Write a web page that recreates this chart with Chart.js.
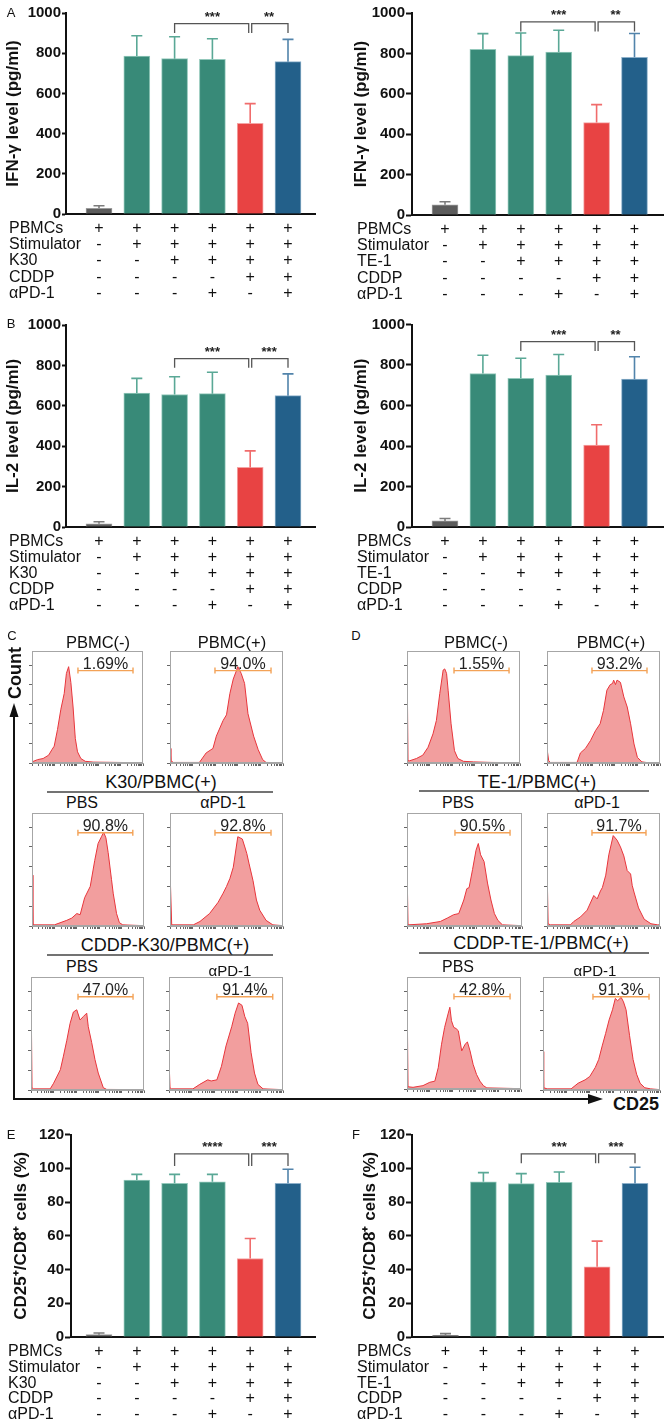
<!DOCTYPE html>
<html><head><meta charset="utf-8">
<script src="https://cdn.jsdelivr.net/npm/chart.js@4.4.1/dist/chart.umd.min.js"></script>
<style>
html,body{margin:0;padding:0;background:#fff;}
#page{position:relative;width:665px;height:1424px;overflow:hidden;font-family:'Liberation Sans',Arial,sans-serif;color:#111;}
canvas{position:absolute;}
.t{position:absolute;white-space:nowrap;line-height:1;transform:translate(-50%,-50%);}
svg{position:absolute;left:0;top:0;}
</style></head><body><div id="page"></div>
<script>
// ---------- DATA ----------
const groups = [0, 1, 2, 3, 4, 5];
const rowNamesK30 = ['PBMCs', 'Stimulator', 'K30', 'CDDP', 'αPD-1'];
const rowNamesTE1 = ['PBMCs', 'Stimulator', 'TE-1', 'CDDP', 'αPD-1'];
const signPBMCs = ['+', '+', '+', '+', '+', '+'];
const signStim  = ['-', '+', '+', '+', '+', '+'];
const signCell  = ['-', '-', '+', '+', '+', '+'];
const signCDDP  = ['-', '-', '-', '-', '+', '+'];
const signPD1   = ['-', '-', '-', '+', '-', '+'];

const ifnK30Mean  = [28, 786, 773, 770, 451, 758];
const ifnK30Err   = [41, 887, 882, 872, 549, 869];
const ifnTE1Mean  = [51, 821, 790, 808, 458, 782];
const ifnTE1Err   = [66, 899, 902, 916, 547, 900];
const il2K30Mean  = [16, 663, 656, 660, 295, 650];
const il2K30Err   = [26, 736, 744, 766, 377, 758];
const il2TE1Mean  = [30, 758, 734, 750, 405, 730];
const il2TE1Err   = [42, 848, 833, 852, 505, 841];
const cd25K30Mean = [1.4, 93, 91.1, 92, 46.5, 91.1];
const cd25K30Err  = [2.4, 96.4, 96.4, 96.4, 58.4, 99.4];
const cd25TE1Mean = [1.0, 92, 90.9, 91.7, 41.6, 91];
const cd25TE1Err  = [2.0, 97.4, 96.8, 97.8, 56.8, 100.6];

const sigIfnK30  = [{from:2, to:4, y:947, drop:900, label:'***'}, {from:4, to:5, y:947, drop:900, label:'**'}];
const sigIfnTE1  = [{from:2, to:4, y:957, drop:910, label:'***'}, {from:4, to:5, y:957, drop:910, label:'**'}];
const sigIl2K30  = [{from:2, to:4, y:834, drop:788, label:'***'}, {from:4, to:5, y:834, drop:788, label:'***'}];
const sigIl2TE1  = [{from:2, to:4, y:915, drop:869, label:'***'}, {from:4, to:5, y:915, drop:869, label:'**'}];
const sigCd25K30 = [{from:2, to:4, y:108.5, drop:101.4, label:'****'}, {from:4, to:5, y:108.5, drop:101.4, label:'***'}];
const sigCd25TE1 = [{from:2, to:4, y:108.5, drop:103, label:'***'}, {from:4, to:5, y:108.5, drop:103, label:'***'}];

// flow histograms: [CD25 position (% of axis), count (% of max)]
const histC1 = [[0,1],[5,3],[10,4],[15,7],[18,12],[20,15],[23,30],[26,48],[29,62],[31,80],[33,86],[35,72],[37,50],[39,22],[41,10],[44,4],[48,1.5],[55,0.8],[70,0.6],[85,0.4],[100,0.3]];
const histC2 = [[0,13],[0.8,2],[3,0.5],[26,0.5],[32,9],[38,13],[41,24],[47,38],[50,43],[53,62],[56,75],[59,83],[60,86],[63,80],[66,71],[69,44],[74,24],[78,12],[82,3],[85,0.5],[100,0.3]];
const histC3 = [[0,45],[0.8,1],[20,1],[31,5],[35.5,7],[40,11],[43,10],[47,25],[52,35],[56,58],[59,73],[62,79],[64,83],[66,78],[68,65],[71,41],[72.5,29],[75.5,11],[78,3],[81,1],[100,0.3]];
const histC4 = [[0,50],[1.5,1],[20.6,1],[26.5,4],[35,11],[42.6,21],[47,29],[50,35],[53,42],[56,52],[60,79],[62,78],[64,77],[66.5,69],[68,64],[70,55],[73.5,40],[76.5,23],[79.4,14],[85,5],[91,1],[100,0.3]];
const histC5 = [[0,96],[0.9,2],[2.3,1],[17,1],[20,6],[26,18],[28.7,30],[31.7,44],[34.6,59],[37.5,69],[40.5,71],[43.4,62],[46.3,65],[49.3,68],[50.7,56],[53.7,42],[56.6,27],[59.5,15],[64,2],[67,0.5],[100,0.3]];
const histC6 = [[0,27],[0.9,2],[2.3,1],[21,1],[27,5],[34,9],[37,8],[42,9],[46,21],[50,39],[55,56],[58,68],[61,77],[64,75],[66.5,65],[69,59],[72,33],[75,15],[78,5],[82.5,1],[100,0.3]];
const histD1 = [[0,98],[0.9,2],[2.4,2],[8.3,4],[14,7],[18.6,14],[23,26],[26,38],[29,62],[32,83],[33.4,84],[35,80],[36.4,65],[39,35],[42,11],[45,4],[50,1.5],[59,1],[75,0.5],[100,0.3]];
const histD2 = [[0,13],[1.5,2],[3,0.5],[26.6,0.5],[29.6,9],[34,13],[38.5,20],[43,29],[47,35],[50,47],[53,65],[56,70],[58,71],[59,74],[60.6,70],[62,74],[65,72],[68,59],[71,50],[74,35],[77,17],[80,5],[84,1],[89,0.3],[100,0.3]];
const histD3 = [[0,55],[0.9,1],[17,2],[29,4],[35,7],[40.6,10],[45,11],[49.4,23],[52,33],[54,34],[57,50],[60,67],[62,73],[64,63],[67,57],[70,38],[73,23],[76,11],[79,5],[83,1],[100,0.3]];
const histD4 = [[0,55],[1,2],[3,1],[20.7,1],[23.7,4],[29.6,8],[35.5,14],[41.4,27],[44.4,24],[47.3,31],[49,34],[52,45],[54.7,63],[58.6,80],[62,76],[65,70],[68,62],[71,49],[74,46],[75.4,36],[77,30],[81,16],[86,6],[92,2],[98,1],[100,1]];
const histD5 = [[0,94],[0.9,2],[5.3,1.5],[14,3],[20,6],[24.4,7],[27.4,19],[30.3,40],[33,55],[36,67],[37.6,73],[39,61],[41,55],[43,54],[45,52],[48,34],[51,40],[53,42],[55.3,34],[58,22],[61,13],[64,7],[67,3],[70,1],[100,0.3]];
const histD6 = [[0,34],[0.6,2],[3.5,1],[24,1],[30,6],[36,9],[40,12],[44.7,20],[47.6,27],[50.6,39],[53.5,50],[56.5,62],[59.4,71],[61.8,81],[63.8,79],[66.8,82],[68.8,78],[71,71],[74,48],[77,27],[80,14],[83,6],[87,2],[92,1],[100,0.3]];

const gatesC = [[41.4,91],[39.8,89.4],[41,90],[39.8,89.4],[41.6,90.3],[42,91]];
const gatesD = [[41.6,90.3],[39.8,88.5],[41.7,89.6],[39.8,87.6],[41.2,90.4],[42.7,90.6]];
const pctC = ['1.69%', '94.0%', '90.8%', '92.8%', '47.0%', '91.4%'];
const pctD = ['1.55%', '93.2%', '90.5%', '91.7%', '42.8%', '91.3%'];
const gateLevel = 82.5;
const histYTicks = [0, 17.5, 35, 52.5, 70, 87.5];

// ---------- STYLE ----------
const FONT = "'Liberation Sans', Arial, sans-serif";
Chart.defaults.font.family = FONT;
const barColors = ['#5c5c5c', '#388a78', '#388a78', '#388a78', '#e84343', '#23608a'];
const barEdges  = ['#9c9c9c', '#93c8bb', '#93c8bb', '#93c8bb', '#f4a4a4', '#8db0ca'];
const errColors = ['#7c7c7c', '#5aa896', '#5aa896', '#5aa896', '#f06c6c', '#5284ab'];
const page = document.getElementById('page');

function mkCanvas(x, y, w, h) {
  const cv = document.createElement('canvas');
  cv.width = w; cv.height = h;
  cv.style.left = x + 'px'; cv.style.top = y + 'px';
  cv.style.width = w + 'px'; cv.style.height = h + 'px';
  page.appendChild(cv);
  return cv;
}

function barChart(s) {
  const cv = mkCanvas(s.x, s.y, s.w, s.h);
  const a = s.area;
  const xmin = (a.l - s.c0) / s.sp, xmax = (a.r - s.c0) / s.sp;
  const overlay = {
    id: 'overlay',
    afterDatasetsDraw(chart) {
      const ctx = chart.ctx, xs = chart.scales.x, ys = chart.scales.y;
      ctx.save();
      s.vals.forEach((v, i) => {
        const x = xs.getPixelForValue(groups[i]);
        const y0 = ys.getPixelForValue(v), y1 = ys.getPixelForValue(s.errs[i]);
        ctx.strokeStyle = errColors[i]; ctx.lineWidth = 1.6;
        ctx.beginPath();
        ctx.moveTo(x, y0); ctx.lineTo(x, y1);
        ctx.moveTo(x - 5.5, y1); ctx.lineTo(x + 5.5, y1);
        ctx.stroke();
      });
      s.sig.forEach((b, k) => {
        let xa = xs.getPixelForValue(b.from), xb = xs.getPixelForValue(b.to);
        if (k === 0) xb -= 1.5; else xa += 1.5;
        const yl = ys.getPixelForValue(b.y), yd = ys.getPixelForValue(b.drop);
        ctx.strokeStyle = '#555'; ctx.lineWidth = 1.3;
        ctx.beginPath();
        ctx.moveTo(xa, yd); ctx.lineTo(xa, yl); ctx.lineTo(xb, yl); ctx.lineTo(xb, yd);
        ctx.stroke();
        ctx.fillStyle = '#222'; ctx.font = 'bold 13px ' + FONT;
        ctx.textAlign = 'center'; ctx.textBaseline = 'alphabetic';
        ctx.fillText(b.label, (xs.getPixelForValue(b.from) + xs.getPixelForValue(b.to)) / 2, yl - 3);
      });
      ctx.fillStyle = '#111'; ctx.font = '16px ' + FONT; ctx.textBaseline = 'middle';
      s.rows.forEach((r, k) => {
        const y = a.b + 14.5 + k * s.rowStep;
        ctx.textAlign = 'left'; ctx.fillText(r.name, s.nameX, y);
        ctx.textAlign = 'center';
        r.signs.forEach((sg, i) => ctx.fillText(sg, xs.getPixelForValue(groups[i]), y));
      });
      ctx.restore();
    }
  };
  new Chart(cv.getContext('2d'), {
    type: 'bar',
    data: { datasets: [{
      data: s.vals.map((v, i) => ({ x: groups[i], y: v })),
      backgroundColor: barColors, borderColor: barEdges, borderWidth: 1, barThickness: 26
    }] },
    options: {
      responsive: false, animation: false, events: [], devicePixelRatio: 1,
      layout: { padding: { top: a.t, right: s.w - a.r, left: 0, bottom: 0 } },
      plugins: { legend: { display: false }, tooltip: { enabled: false } },
      scales: {
        x: { type: 'linear', min: xmin, max: xmax, offset: false,
             grid: { display: false }, ticks: { display: false },
             border: { display: true, width: 2, color: '#111' },
             afterFit(sc) { sc.height = s.h - a.b; } },
        y: { type: 'linear', min: 0, max: s.ymax,
             ticks: { stepSize: s.step, color: '#111', padding: 1, font: { family: FONT, size: 15, weight: 'bold' },
                      callback: v => String(v) },
             grid: { display: true, drawOnChartArea: false, drawTicks: true, tickLength: s.tick, tickWidth: 2, tickColor: '#111' },
             border: { display: true, width: 2, color: '#111' },
             title: { display: true, text: s.title, color: '#111', font: { family: FONT, size: 17, weight: 'bold' }, padding: { top: s.titlePad, bottom: 0 } },
             afterFit(sc) { sc.width = a.l; } }
      }
    },
    plugins: [overlay]
  });
}

function tableRows(cellName) {
  const names = cellName === 'K30' ? rowNamesK30 : rowNamesTE1;
  const signs = [signPBMCs, signStim, signCell, signCDDP, signPD1];
  return names.map((n, k) => ({ name: n, signs: signs[k] }));
}

barChart({ x: 0, y: 0, w: 330, h: 300, area: { l: 66, r: 315, t: 13, b: 214 }, c0: 99, sp: 37.8,
  ymax: 1000, step: 200, tick: 4, title: 'IFN-γ level (pg/ml)', titlePad: 3,
  vals: ifnK30Mean, errs: ifnK30Err, sig: sigIfnK30, rows: tableRows('K30'), nameX: 9, rowStep: 16.2 });
barChart({ x: 330, y: 0, w: 335, h: 300, area: { l: 82, r: 333, t: 13.3, b: 215 }, c0: 115, sp: 37.9,
  ymax: 1000, step: 200, tick: 6, title: 'IFN-γ level (pg/ml)', titlePad: 21,
  vals: ifnTE1Mean, errs: ifnTE1Err, sig: sigIfnTE1, rows: tableRows('TE-1'), nameX: 27, rowStep: 16.2 });
barChart({ x: 0, y: 312, w: 330, h: 300, area: { l: 66, r: 315, t: 13, b: 215 }, c0: 99, sp: 37.8,
  ymax: 1000, step: 200, tick: 4, title: 'IL-2 level (pg/ml)', titlePad: 3,
  vals: il2K30Mean, errs: il2K30Err, sig: sigIl2K30, rows: tableRows('K30'), nameX: 9, rowStep: 16 });
barChart({ x: 330, y: 312, w: 335, h: 300, area: { l: 82, r: 333, t: 12.5, b: 215 }, c0: 115, sp: 37.9,
  ymax: 1000, step: 200, tick: 6, title: 'IL-2 level (pg/ml)', titlePad: 21,
  vals: il2TE1Mean, errs: il2TE1Err, sig: sigIl2TE1, rows: tableRows('TE-1'), nameX: 27, rowStep: 16 });
barChart({ x: 0, y: 1122, w: 330, h: 302, area: { l: 71, r: 315, t: 12.5, b: 215 }, c0: 99, sp: 37.8,
  ymax: 120, step: 20, tick: 6, title: 'CD25⁺/CD8⁺ cells (%)', titlePad: 11.5,
  vals: cd25K30Mean, errs: cd25K30Err, sig: sigCd25K30, rows: tableRows('K30'), nameX: 8, rowStep: 15.8 });
barChart({ x: 330, y: 1122, w: 335, h: 302, area: { l: 82, r: 333, t: 12.5, b: 215 }, c0: 115.5, sp: 37.9,
  ymax: 120, step: 20, tick: 6, title: 'CD25⁺/CD8⁺ cells (%)', titlePad: 30,
  vals: cd25TE1Mean, errs: cd25TE1Err, sig: sigCd25TE1, rows: tableRows('TE-1'), nameX: 27, rowStep: 15.8 });

// ---------- histograms ----------
const histXTicks = [];
for (let d = 0; d < 5; d++) for (let k = 1; k < 10; k++) histXTicks.push(d * 20 + 20 * Math.log10(k));
histXTicks.push(100);

function histChart(box, pts, gate, pct) {
  const cv = mkCanvas(box[0] - 4, box[1] - 1, box[2] + 5, box[3] + 5);
  const deco = {
    id: 'deco',
    afterDraw(chart) {
      const ctx = chart.ctx, ca = chart.chartArea, xs = chart.scales.x, ys = chart.scales.y;
      ctx.save();
      ctx.strokeStyle = '#a6a6a6'; ctx.lineWidth = 1;
      ctx.strokeRect(ca.left + 0.5, ca.top + 0.5, ca.right - ca.left - 1, ca.bottom - ca.top - 1);
      const y = ys.getPixelForValue(gateLevel);
      const x0 = xs.getPixelForValue(gate[0]), x1 = xs.getPixelForValue(gate[1]);
      ctx.strokeStyle = '#f3a257'; ctx.lineWidth = 1.4;
      ctx.beginPath();
      ctx.moveTo(x0, y); ctx.lineTo(x1, y);
      ctx.moveTo(x0, y - 3); ctx.lineTo(x0, y + 3);
      ctx.moveTo(x1, y - 3); ctx.lineTo(x1, y + 3);
      ctx.stroke();
      ctx.fillStyle = '#222'; ctx.font = '16px ' + FONT;
      ctx.textAlign = 'center'; ctx.textBaseline = 'alphabetic';
      ctx.fillText(pct, (x0 + x1) / 2, y - 2);
      ctx.restore();
    }
  };
  const gridOpts = { display: true, drawOnChartArea: false, drawTicks: true, tickLength: 3, tickWidth: 1, tickColor: '#666' };
  new Chart(cv.getContext('2d'), {
    type: 'line',
    data: { datasets: [{
      data: pts.map(p => ({ x: p[0], y: p[1] })),
      borderColor: '#e8353b', borderWidth: 1, backgroundColor: 'rgba(234,98,98,0.62)',
      fill: 'origin', pointRadius: 0, tension: 0
    }] },
    options: {
      responsive: false, animation: false, events: [], devicePixelRatio: 1,
      layout: { padding: { top: 1, right: 1, left: 0, bottom: 0 } },
      plugins: { legend: { display: false }, tooltip: { enabled: false } },
      scales: {
        x: { type: 'linear', min: 0, max: 100, offset: false, ticks: { display: false }, grid: gridOpts,
             border: { display: true, color: '#a6a6a6', width: 1 },
             afterBuildTicks(sc) { sc.ticks = histXTicks.map(v => ({ value: v })); },
             afterFit(sc) { sc.height = 4; } },
        y: { type: 'linear', min: 0, max: 100, ticks: { display: false }, grid: gridOpts,
             border: { display: true, color: '#a6a6a6', width: 1 },
             afterBuildTicks(sc) { sc.ticks = histYTicks.map(v => ({ value: v })); },
             afterFit(sc) { sc.width = 4; } }
      }
    },
    plugins: [deco]
  });
}

const boxesC = [[32,651,111,112],[170,651,113,112],[32,813,112,113],[170,813,113,113],[31,977,113,113],[169,977,114,113]];
const boxesD = [[407,651,113,112],[547,651,113,112],[407,813,115,113],[547,813,113,113],[407,977,114,112],[543,977,117,113]];
const histsC = [histC1, histC2, histC3, histC4, histC5, histC6];
const histsD = [histD1, histD2, histD3, histD4, histD5, histD6];
histsC.forEach((h, i) => histChart(boxesC[i], h, gatesC[i], pctC[i]));
histsD.forEach((h, i) => histChart(boxesD[i], h, gatesD[i], pctD[i]));

// ---------- text & arrows ----------
function txt(s, cx, cy, size, weight, extra) {
  const d = document.createElement('div');
  d.className = 't'; d.textContent = s;
  d.style.left = cx + 'px'; d.style.top = cy + 'px';
  d.style.fontSize = size + 'px'; d.style.fontWeight = weight || 'normal';
  if (extra) d.style.transform = extra;
  page.appendChild(d);
}
txt('A', 11, 12, 13); txt('B', 11, 323, 13); txt('C', 12, 635, 13); txt('D', 356, 635, 13);
txt('E', 11, 1134, 13); txt('F', 356, 1134, 13);
txt('PBMC(-)', 98, 642, 16.5); txt('PBMC(+)', 232, 642, 16.5);
txt('PBMC(-)', 476, 642, 16.5); txt('PBMC(+)', 611, 642, 16.5);
txt('K30/PBMC(+)', 161, 782, 18); txt('PBS', 82, 803, 16); txt('αPD-1', 223, 803, 16);
txt('CDDP-K30/PBMC(+)', 165, 945, 18); txt('PBS', 82, 967, 16); txt('αPD-1', 230, 970, 15);
txt('TE-1/PBMC(+)', 537, 782, 18); txt('PBS', 458, 803, 16); txt('αPD-1', 597, 803, 16);
txt('CDDP-TE-1/PBMC(+)', 541, 943, 18); txt('PBS', 458, 967, 16); txt('αPD-1', 595, 970, 15);
txt('Count', 15, 673, 18, 'bold', 'translate(-50%,-50%) rotate(-90deg)');
txt('CD25', 636, 1104, 18, 'bold');

const svgNS = 'http://www.w3.org/2000/svg';
const svg = document.createElementNS(svgNS, 'svg');
svg.setAttribute('width', 665); svg.setAttribute('height', 1424);
svg.innerHTML =
  '<g stroke="#444" stroke-width="1.5">' +
  '<line x1="47" y1="792" x2="273" y2="792"/><line x1="47" y1="955" x2="273" y2="955"/>' +
  '<line x1="419" y1="791" x2="649" y2="791"/><line x1="419" y1="953" x2="649" y2="953"/></g>' +
  '<g stroke="#111" stroke-width="2" fill="none"><polyline points="14,712 14,1099 592,1099"/></g>' +
  '<polygon fill="#111" points="14,703 9.5,717 18.5,717"/>' +
  '<polygon fill="#111" points="603,1099 588,1094 588,1104"/>';
page.appendChild(svg);
</script></body></html>
